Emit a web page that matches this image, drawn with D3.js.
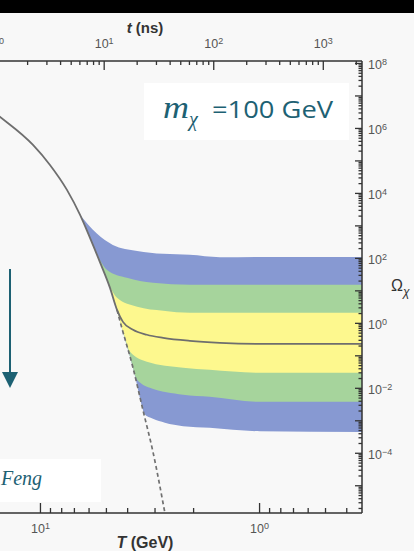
<!DOCTYPE html>
<html><head><meta charset="utf-8">
<script src="https://cdn.jsdelivr.net/npm/d3@7"></script>
<style>
html,body{margin:0;padding:0;background:#f8f8f8;overflow:hidden}
svg{display:block}
</style></head><body>
<svg id="chart" width="414" height="551"></svg>
<script>
// WIMP freeze-out: relic abundance Omega_chi against temperature for m_chi = 100 GeV

// equilibrium abundance (T in GeV)
const eqT     = [16.9, 15.2, 10.76, 9.0, 7.53, 6.56, 5.91, 5.33, 4.79, 4.45, 4.23, 3.76, 3.39, 3.05, 2.69];
const eqOmega = [3.84e6, 2.18e6, 3.0e5, 7.27e4, 1.24e4, 2100, 412, 75.3, 11.9, 2.51, 0.70, 0.0412, 2.1e-3, 1.07e-4, 1.4e-6];

// frozen-out abundance after leaving equilibrium
const relicT     = [4.45, 4.18, 3.76, 3.25, 2.74, 2.07, 1.51, 0.99, 0.339];
const relicOmega = [2.51, 1.07, 0.61, 0.43, 0.345, 0.279, 0.243, 0.226, 0.226];

// band edges for varied annihilation cross sections
const blueTopT      = [6.56, 5.50, 4.65, 3.60, 2.74, 2.07, 1.51, 0.99, 0.339];
const blueTopOmega  = [2100, 560, 251, 164, 133, 124, 105, 107, 107];
const greenTopT     = [5.66, 4.94, 4.01, 3.05, 2.07, 0.99, 0.339];
const greenTopOmega = [203, 42.7, 24.3, 17.0, 14.8, 14.8, 14.8];
const yellowTopT     = [5.11, 4.45, 3.60, 2.74, 2.07, 0.99, 0.339];
const yellowTopOmega = [37.1, 5.88, 3.11, 2.34, 2.03, 2.03, 2.03];
const yellowBotT     = [4.13, 3.88, 3.25, 2.22, 1.68, 0.99, 0.339];
const yellowBotOmega = [0.428, 0.128, 0.063, 0.0412, 0.0358, 0.029, 0.029];
const greenBotT     = [3.68, 3.39, 3.15, 2.22, 1.68, 0.99, 0.339];
const greenBotOmega = [0.0234, 0.0124, 0.01, 6.1e-3, 5.3e-3, 3.7e-3, 3.7e-3];
const blueBotT     = [3.35, 3.05, 2.69, 2.22, 1.68, 0.99, 0.339];
const blueBotOmega = [1.58e-3, 1.11e-3, 8.4e-4, 6.6e-4, 5.9e-4, 4.6e-4, 4.4e-4];

// axis tick values
const tempMajor = [10, 1];
const timeMajor = [1, 10, 100, 1000];
const omegaMajor = [1e-5, 1e-4, 1e-3, 1e-2, 1e-1, 1, 10, 1e2, 1e3, 1e4, 1e5, 1e6, 1e7, 1e8];
const omegaLabelled = [1e-4, 1e-2, 1, 1e2, 1e4, 1e6, 1e8];
const tAtOneGeV = 262; // ns

const pts = (T, O) => T.map((t, i) => [t, O[i]]);

const svg = d3.select("#chart");
const W = 414, H = 551;
const plot = {left: -26, right: 362, top: 61, bottom: 513};

const x = d3.scaleLog().domain([20, 0.339]).range([plot.left, plot.right]);
const y = d3.scaleLog().domain([1.4e-6, 1.15e8]).range([plot.bottom, plot.top]);
const xt = d3.scaleLog().domain(x.domain().map(T => tAtOneGeV / (T * T))).range(x.range());

svg.append("rect").attr("width", W).attr("height", H).attr("fill", "#f8f8f8");
svg.append("rect").attr("width", W).attr("height", 13).attr("fill", "#000");

svg.append("defs").append("clipPath").attr("id", "plotClip")
  .append("rect").attr("x", plot.left - 100).attr("y", plot.top)
  .attr("width", plot.right - plot.left + 100).attr("height", plot.bottom - plot.top);

const g = svg.append("g").attr("clip-path", "url(#plotClip)");

const line = d3.line().x(d => x(d[0])).y(d => y(d[1])).curve(d3.curveMonotoneX);
const eq = pts(eqT, eqOmega);

function bandPath(upper, lower) {
  const tTop = upper[0][0], tBot = lower[0][0];
  const back = lower.slice().reverse()
    .concat(eq.filter(p => p[0] > tBot && p[0] < tTop).sort((a, b) => a[0] - b[0]))
    .concat([upper[0]]);
  return line(upper) + line(back).replace(/^M/, "L") + "Z";
}

const bands = [
  {fill: "#8799d2", up: pts(blueTopT, blueTopOmega), lo: pts(blueBotT, blueBotOmega)},
  {fill: "#a6d49c", up: pts(greenTopT, greenTopOmega), lo: pts(greenBotT, greenBotOmega)},
  {fill: "#fdf88e", up: pts(yellowTopT, yellowTopOmega), lo: pts(yellowBotT, yellowBotOmega)}
];
g.selectAll("path.band").data(bands).join("path").attr("class", "band")
  .attr("d", b => bandPath(b.up, b.lo)).attr("fill", b => b.fill);

// dashed equilibrium continuation
const dashed = eq.filter(p => p[0] <= relicT[0]);
g.append("path").attr("d", line(dashed)).attr("fill", "none")
  .attr("stroke", "#707070").attr("stroke-width", 1.7).attr("stroke-dasharray", "4,3");

// solid abundance curve
const solid = eq.filter(p => p[0] > relicT[0]).concat(pts(relicT, relicOmega));
g.append("path").attr("d", line(solid)).attr("fill", "none")
  .attr("stroke", "#6e6e6e").attr("stroke-width", 1.8);

// ---- axes ----
const axisColor = "#333";
function minorsBetween(lo, hi) {
  const out = [];
  for (let e = -8; e <= 9; e++) for (let k = 2; k <= 9; k++) {
    const v = k * Math.pow(10, e);
    if (v > lo && v < hi) out.push(v);
  }
  return out;
}
function supLabel(sel, fontSize) {
  sel.each(function(d) {
    const t = d3.select(this);
    const txt = t.text();
    if (!txt) return;
    const e = Math.round(Math.log10(d));
    t.text(null);
    t.append("tspan").text("10");
    t.append("tspan").attr("dy", "-0.45em").attr("font-size", fontSize * 0.72)
      .text(e < 0 ? "\u2212" + (-e) : String(e));
  });
}
function styleAxis(a) {
  a.select(".domain").remove();
  a.selectAll("line").attr("stroke", axisColor).attr("stroke-width", 1.3);
  a.selectAll("text").attr("fill", "#555").attr("font-family", "Liberation Sans, Arial, sans-serif");
}

const tickFS = 12.5;
const xDom = x.domain();
// bottom temperature axis
const bMinor = svg.append("g").attr("transform", `translate(0,${plot.bottom})`)
  .call(d3.axisBottom(x).tickValues(minorsBetween(xDom[1], xDom[0])).tickSize(-5).tickFormat(""));
styleAxis(bMinor);
const bMajor = svg.append("g").attr("transform", `translate(0,${plot.bottom})`)
  .call(d3.axisBottom(x).tickValues(tempMajor).tickSize(-10).tickPadding(11).tickFormat(d => "x"));
styleAxis(bMajor);
bMajor.selectAll("text").attr("font-size", tickFS).call(supLabel, tickFS);

// top time axis
const tDom = xt.domain();
const tMinor = svg.append("g").attr("transform", `translate(0,${plot.top})`)
  .call(d3.axisTop(xt).tickValues(minorsBetween(tDom[0], tDom[1])).tickSize(-4).tickFormat(""));
styleAxis(tMinor);
const tMajor = svg.append("g").attr("transform", `translate(0,${plot.top})`)
  .call(d3.axisTop(xt).tickValues(timeMajor).tickSize(-9).tickPadding(13).tickFormat(d => "x"));
styleAxis(tMajor);
tMajor.selectAll("text").attr("font-size", tickFS).call(supLabel, tickFS);

// right abundance axis
const yDom = y.domain();
const rMinor = svg.append("g").attr("transform", `translate(${plot.right},0)`)
  .call(d3.axisRight(y).tickValues(minorsBetween(yDom[0], yDom[1])).tickSize(-3.5).tickFormat(""));
styleAxis(rMinor);
const rMajor = svg.append("g").attr("transform", `translate(${plot.right},0)`)
  .call(d3.axisRight(y).tickValues(omegaMajor).tickSize(-7).tickPadding(6)
    .tickFormat(d => omegaLabelled.includes(d) ? "x" : ""));
styleAxis(rMajor);
rMajor.selectAll("text").attr("font-size", tickFS).attr("dy", "0.45em").call(supLabel, tickFS);

// frame lines
const frame = svg.append("g").attr("stroke", axisColor).attr("stroke-width", 1.5).attr("fill", "none");
frame.append("line").attr("x1", 0).attr("x2", plot.right).attr("y1", plot.top).attr("y2", plot.top);
frame.append("line").attr("x1", 0).attr("x2", plot.right).attr("y1", plot.bottom).attr("y2", plot.bottom);
frame.append("line").attr("x1", plot.right).attr("x2", plot.right).attr("y1", plot.top).attr("y2", plot.bottom);

// axis titles
const tt = svg.append("text").attr("x", 145).attr("y", 33).attr("text-anchor", "middle")
  .attr("font-family", "Liberation Sans, Arial, sans-serif").attr("font-weight", "bold")
  .attr("font-size", 15).attr("fill", "#333");
tt.append("tspan").attr("font-style", "italic").text("t");
tt.append("tspan").text(" (ns)");

const tb = svg.append("text").attr("x", 145).attr("y", 548).attr("text-anchor", "middle")
  .attr("font-family", "Liberation Sans, Arial, sans-serif").attr("font-weight", "bold")
  .attr("font-size", 16).attr("fill", "#333");
tb.append("tspan").attr("font-style", "italic").text("T");
tb.append("tspan").text(" (GeV)");

const om = svg.append("text").attr("x", 391).attr("y", 291)
  .attr("font-family", "Liberation Sans, Arial, sans-serif").attr("font-size", 16).attr("fill", "#333");
om.append("tspan").text("\u03A9");
om.append("tspan").attr("dy", 5).attr("font-size", 12).attr("font-style", "italic").text("\u03C7");

// mass label box
const teal = "#1d6173";
svg.append("rect").attr("x", 144).attr("y", 83).attr("width", 205).attr("height", 57).attr("fill", "#fff");
svg.append("text").attr("x", 163).attr("y", 118).attr("fill", teal)
  .attr("font-family", "Liberation Serif, DejaVu Serif, serif").attr("font-style", "italic")
  .attr("font-size", 31).attr("textLength", 26).attr("lengthAdjust", "spacingAndGlyphs").text("m");
svg.append("text").attr("x", 189).attr("y", 126).attr("fill", teal)
  .attr("font-family", "Liberation Serif, DejaVu Serif, serif").attr("font-style", "italic")
  .attr("font-size", 20).text("\u03C7");
svg.append("text").attr("x", 212).attr("y", 118).attr("fill", teal)
  .attr("font-family", "Open Sans, sans-serif").attr("font-size", 23)
  .attr("textLength", 121).attr("lengthAdjust", "spacingAndGlyphs").text("=100 GeV");

// credit box
svg.append("rect").attr("x", 0).attr("y", 459).attr("width", 101).attr("height", 43).attr("fill", "#fff");
svg.append("text").attr("x", 1).attr("y", 485).attr("fill", teal)
  .attr("font-family", "Liberation Serif, DejaVu Serif, serif").attr("font-style", "italic")
  .attr("font-size", 20).text("Feng");

// downward arrow
svg.append("line").attr("x1", 10).attr("x2", 10).attr("y1", 269).attr("y2", 375)
  .attr("stroke", teal).attr("stroke-width", 2);
svg.append("path").attr("d", "M2,372L18,372L10,388Z").attr("fill", teal);
</script>
</body></html>
